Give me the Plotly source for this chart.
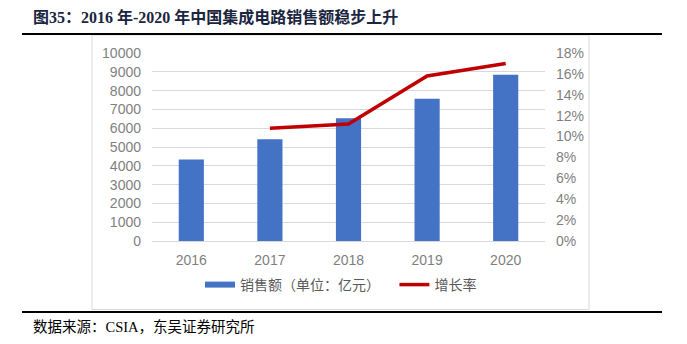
import plotly.graph_objects as go

years = ["2016", "2017", "2018", "2019", "2020"]
sales = [4335.5, 5411.3, 6532.0, 7562.3, 8848.0]
growth_years = ["2017", "2018", "2019", "2020"]
growth = [10.8, 11.2, 15.8, 17.0]

W, H = 687, 344
L, R, T, B = 152, 545, 53, 241  # plot area in pixels

def px(x):
    return (x - L) / (R - L)

def py(y):
    return (B - y) / (B - T)

fig = go.Figure()
fig.add_trace(go.Bar(x=years, y=sales, name="销售额（单位：亿元）", showlegend=False,
                     marker=dict(color="#4472C4", line=dict(width=0)), width=0.32))
# legend key for bars drawn as a flat bar-coloured stroke, like the reference
fig.add_trace(go.Scatter(x=[None], y=[None], name="销售额（单位：亿元）   ", mode="lines",
                         line=dict(color="#4472C4", width=6), legendrank=1))
fig.add_trace(go.Scatter(x=growth_years, y=growth, name="增长率", yaxis="y2",
                         mode="lines", line=dict(color="#C00000", width=3.5), legendrank=2))

tickfont = dict(family="Liberation Sans, Arial, sans-serif", size=14, color="#7F7F7F")

fig.update_layout(
    width=W, height=H,
    margin=dict(l=L, r=W - R, t=T, b=H - B),
    paper_bgcolor="white", plot_bgcolor="white",
    showlegend=True,
    legend=dict(orientation="h", x=px(341), xanchor="center", y=py(285), yanchor="middle",
                font=dict(family="Noto Sans CJK SC, sans-serif", size=14, color="#595959"),
                bgcolor="rgba(0,0,0,0)", itemwidth=30, tracegroupgap=0),
    xaxis=dict(type="category", tickfont=tickfont, showgrid=False, showline=True,
               linecolor="#D9D9D9", linewidth=1, ticks="", ticklabelstandoff=6),
    yaxis=dict(range=[0, 10000], dtick=1000, tickfont=tickfont, showgrid=True,
               gridcolor="#D9D9D9", gridwidth=1, zeroline=False, ticks="",
               ticklabelstandoff=10, tickformat="d"),
    yaxis2=dict(range=[0, 18], dtick=2, overlaying="y", side="right", tickfont=tickfont,
                ticksuffix="%", showgrid=False, zeroline=False, ticks="",
                ticklabelstandoff=10),
    shapes=[
        dict(type="rect", xref="paper", yref="paper", x0=px(92), x1=px(589), y0=py(309.5), y1=py(35),
             line=dict(color="#D9D9D9", width=1), layer="below"),
        dict(type="line", xref="paper", yref="paper", x0=px(22), x1=px(662), y0=py(34), y1=py(34),
             line=dict(color="#000000", width=2)),
        dict(type="line", xref="paper", yref="paper", x0=px(22), x1=px(662), y0=py(312), y1=py(312),
             line=dict(color="#000000", width=2)),
    ],
    annotations=[
        dict(text="<b>图35：2016 年-2020 年中国集成电路销售额稳步上升</b>", xref="paper", yref="paper",
             x=px(31), y=py(17), xanchor="left", yanchor="middle", showarrow=False,
             font=dict(family="Liberation Serif, Noto Sans CJK SC, serif", size=16, color="#1A2540")),
        dict(text="数据来源：CSIA，东吴证券研究所", xref="paper", yref="paper",
             x=px(31), y=py(327), xanchor="left", yanchor="middle", showarrow=False,
             font=dict(family="Liberation Serif, Noto Sans CJK SC, serif", size=14.5, color="#000000")),
    ],
)

fig.write_html("out.html")
